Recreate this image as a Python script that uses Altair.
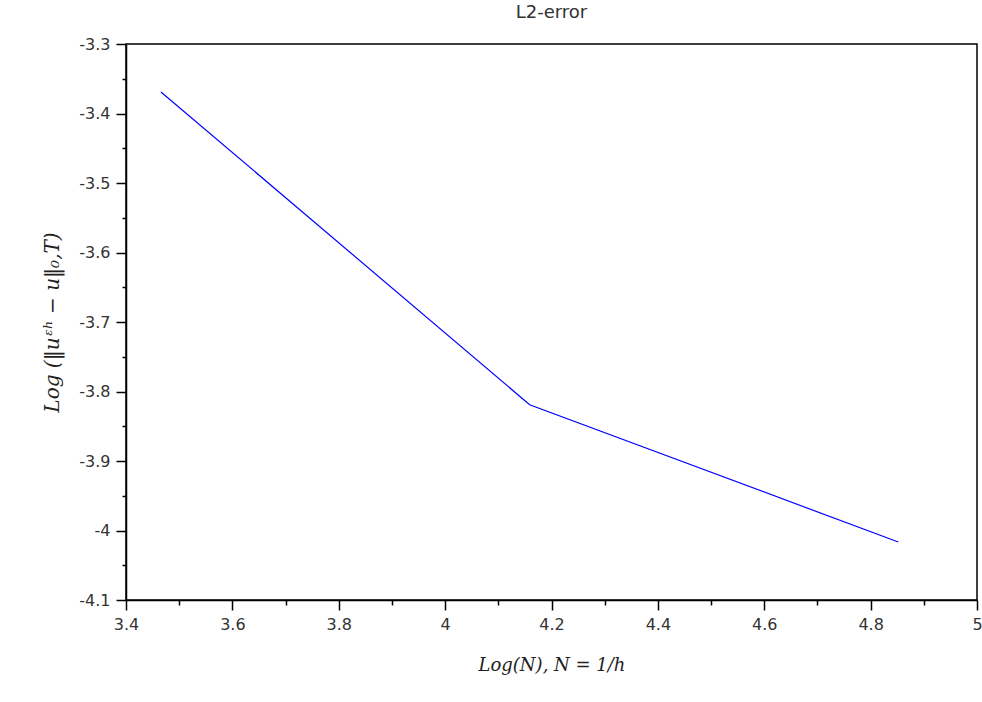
import altair as alt
import pandas as pd

log_n = [3.4657, 4.1589, 4.8520]
log_err = [-3.369, -3.819, -4.0165]

x_major_ticks = [3.4, 3.6, 3.8, 4.0, 4.2, 4.4, 4.6, 4.8, 5.0]
x_minor_ticks = [3.5, 3.7, 3.9, 4.1, 4.3, 4.5, 4.7, 4.9]
y_major_ticks = [-3.3, -3.4, -3.5, -3.6, -3.7, -3.8, -3.9, -4.0, -4.1]
y_minor_ticks = [-3.35, -3.45, -3.55, -3.65, -3.75, -3.85, -3.95, -4.05]

df = pd.DataFrame({"x": log_n, "y": log_err})

x_scale = alt.Scale(domain=[3.4, 5.0], nice=False, zero=False)
y_scale = alt.Scale(domain=[-4.1, -3.3], nice=False, zero=False)

x_axis = alt.Axis(
    values=x_major_ticks,
    orient="bottom",
    title="Log(N),  N = 1/h",
    titleFont="DejaVu Serif",
    titleFontStyle="italic",
    titleFontWeight="normal",
    titleFontSize=18,
    titleColor="#222",
    titlePadding=24,
    labelExpr="'' + datum.value",
    labelFont="DejaVu Sans",
    labelFontSize=16,
    labelColor="#333",
    labelPadding=6,
    tickSize=10,
    tickColor="black",
    tickWidth=1.5,
    domainColor="black",
    domainWidth=1.5,
    grid=False,
    labelFlush=False,
    labelOverlap=False,
)

y_axis = alt.Axis(
    values=y_major_ticks,
    orient="left",
    title="Log (‖uᵋʰ − u‖₀,T)",
    titleFont="DejaVu Serif",
    titleFontStyle="italic",
    titleFontWeight="normal",
    titleFontSize=20,
    titleColor="#222",
    titlePadding=16,
    labelExpr="'' + datum.value",
    labelFont="DejaVu Sans",
    labelFontSize=16,
    labelColor="#333",
    labelPadding=6,
    tickSize=10,
    tickColor="black",
    tickWidth=1.5,
    domainColor="black",
    domainWidth=1.5,
    grid=False,
    labelFlush=False,
    labelOverlap=False,
)

x_minor_axis = alt.Axis(
    values=x_minor_ticks, orient="bottom", title="", labels=False,
    tickSize=5, tickColor="black", tickWidth=1.5, domain=False, grid=False,
)
y_minor_axis = alt.Axis(
    values=y_minor_ticks, orient="left", title="", labels=False,
    tickSize=4, tickColor="black", tickWidth=1.5, domain=False, grid=False,
)

line = (
    alt.Chart(df)
    .mark_line(color="#0000ff", strokeWidth=1.2)
    .encode(
        x=alt.X("x:Q", scale=x_scale, axis=x_axis),
        y=alt.Y("y:Q", scale=y_scale, axis=y_axis),
    )
)

minor = (
    alt.Chart(df)
    .mark_point(opacity=0)
    .encode(
        x=alt.X("x:Q", scale=x_scale, axis=x_minor_axis),
        y=alt.Y("y:Q", scale=y_scale, axis=y_minor_axis),
    )
)

chart = (
    alt.layer(line, minor)
    .resolve_axis(x="independent", y="independent")
    .properties(
        width=851,
        height=556,
        title=alt.TitleParams(
            "L2-error",
            font="DejaVu Sans",
            fontSize=18,
            fontWeight="normal",
            color="#333",
            anchor="middle",
            offset=14,
        ),
        autosize=alt.AutoSizeParams(type="none"),
        padding={"left": 126, "top": 44, "right": 5, "bottom": 102},
        background="white",
    )
    .configure_view(stroke="black", strokeWidth=1.5)
)

chart.save("out.html", embed_options={"renderer": "svg", "actions": False})
